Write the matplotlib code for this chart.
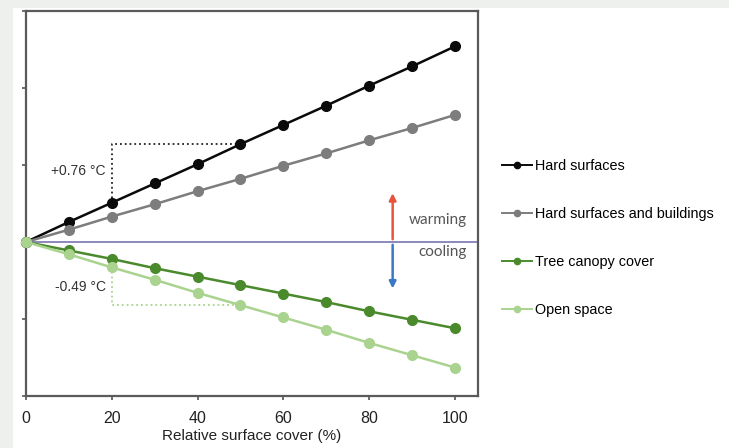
import matplotlib
matplotlib.use("Agg")
import matplotlib.pyplot as plt
from matplotlib.patches import Rectangle

plt.rcParams['font.family'] = ['Liberation Sans', 'DejaVu Sans']

# relative surface cover (%)
cover = [0, 10, 20, 30, 40, 50, 60, 70, 80, 90, 100]

# modelled temperature change (°C)
hard = [0, 0.26, 0.51, 0.76, 1.01, 1.27, 1.52, 1.77, 2.03, 2.28, 2.54]
hard_bldg = [0, 0.16, 0.33, 0.49, 0.66, 0.82, 0.99, 1.15, 1.32, 1.48, 1.65]
canopy = [0, -0.11, -0.22, -0.34, -0.45, -0.56, -0.67, -0.78, -0.90, -1.01, -1.12]
open_space = [0, -0.16, -0.33, -0.49, -0.66, -0.82, -0.98, -1.14, -1.31, -1.47, -1.63]

series = [
    ('Hard surfaces', hard, '#0a0a0a'),
    ('Hard surfaces and buildings', hard_bldg, '#7d7d7d'),
    ('Tree canopy cover', canopy, '#4a8a2c'),
    ('Open space', open_space, '#a9d38f'),
]

fig = plt.figure(figsize=(7.29, 4.48), dpi=100, facecolor='#eef0ee')
# white panel behind the chart
fig.patches.append(Rectangle((13 / 729, 0), 1, 440 / 448, transform=fig.transFigure,
                             facecolor='white', edgecolor='none', zorder=-10))

ax = fig.add_axes([26 / 729, 52 / 448, 452 / 729, 385 / 448])
ax.set_facecolor('white')

# zero line
ax.axhline(0, color='#6e6aa8', lw=1.1, zorder=1)

handles = []
for label, vals, col in series:
    ax.plot(cover, vals, color=col, lw=1.8, marker='o', ms=7, mec=col, mfc=col,
            clip_on=False, zorder=3)
    h, = ax.plot([], [], color=col, lw=1.4, marker='o', ms=4.5, mec=col, mfc=col)
    handles.append((h, label))

# brackets showing change from 20 % to 50 %
i20, i50 = cover.index(20), cover.index(50)
ax.plot([20, 20, 50], [hard[i20], hard[i50], hard[i50]], color='#222222', ls=':', lw=1.3, zorder=2)
ax.plot([20, 20, 50], [open_space[i20], open_space[i50], open_space[i50]],
        color='#a9d38f', ls=':', lw=1.3, zorder=2)
ax.text(18.6, 0.92, '+0.76 °C', ha='right', va='center', fontsize=10, color='#333333')
ax.text(18.6, -0.59, '-0.49 °C', ha='right', va='center', fontsize=10, color='#333333')

# warming / cooling arrows
ax.annotate('', xy=(85.5, 0.67), xytext=(85.5, 0),
            arrowprops=dict(arrowstyle='-|>', color='#e8533c', lw=1.8, mutation_scale=10))
ax.annotate('', xy=(85.5, -0.64), xytext=(85.5, 0),
            arrowprops=dict(arrowstyle='-|>', color='#3b78c6', lw=1.8, mutation_scale=10))
ax.text(102.8, 0.29, 'warming', ha='right', va='center', fontsize=11,
        family=['Lato', 'DejaVu Sans'], color='#555555')
ax.text(102.8, -0.13, 'cooling', ha='right', va='center', fontsize=11,
        family=['Lato', 'DejaVu Sans'], color='#555555')

ax.set_xlim(0, 105.4)
ax.set_ylim(-2, 3)
ax.set_xticks([0, 20, 40, 60, 80, 100])
ax.set_yticks([-2, -1, 0, 1, 2, 3])
ax.set_yticklabels([])
ax.tick_params(axis='x', direction='out', length=3, width=1.2, color='#555555',
               labelsize=11.5, pad=8, labelcolor='#222222')
ax.tick_params(axis='y', direction='out', length=3, width=1.2, color='#555555')
for s in ax.spines.values():
    s.set_color('#5a5a5a')
    s.set_linewidth(1.6)
ax.set_xlabel('Relative surface cover (%)', fontsize=11, labelpad=2, color='#222222')

fig.legend([h for h, _ in handles], [l for _, l in handles], loc='center left',
           bbox_to_anchor=(502 / 729, 0.469), frameon=False, fontsize=10.4,
           handlelength=2.1, handletextpad=0.2, labelspacing=2.35,
           borderpad=0, borderaxespad=0)

fig.savefig('out.png', dpi=100, facecolor=fig.get_facecolor())
